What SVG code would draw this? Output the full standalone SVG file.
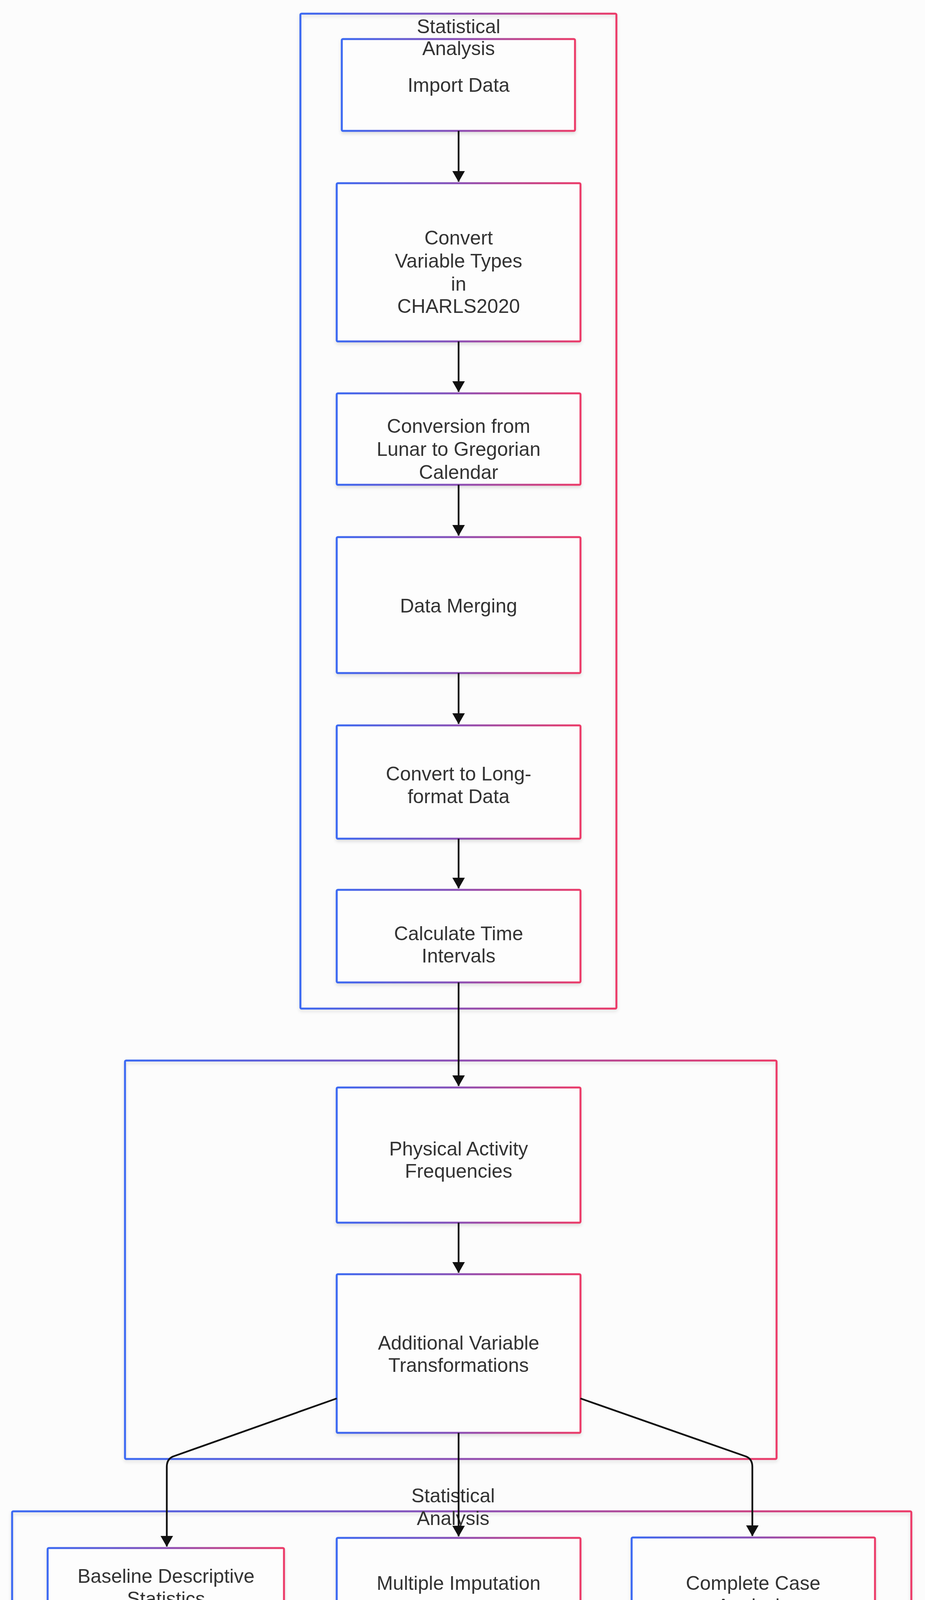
<svg xmlns="http://www.w3.org/2000/svg" width="2368" height="5119" viewBox="0 0 2368 5119">
<defs>
<linearGradient id="g" x1="0" y1="0" x2="1" y2="0">
<stop offset="0" stop-color="#3a68f2"/>
<stop offset="0.5" stop-color="#8b4fb5"/>
<stop offset="1" stop-color="#ec3a68"/>
</linearGradient>
<filter id="sh" x="-5%" y="-5%" width="110%" height="115%">
<feDropShadow dx="0" dy="5" stdDeviation="4" flood-color="#000" flood-opacity="0.12"/>
</filter>
<marker id="ah" markerUnits="userSpaceOnUse" viewBox="0 0 28 32" markerWidth="28" markerHeight="32" refX="27" refY="16" orient="auto">
<path d="M0,0 L28,16 L0,32 z" fill="#111"/>
</marker>
<style>
.cl{fill:none;stroke:url(#g);stroke-width:5;filter:url(#sh)}
.nd{fill:#fdfdfd;stroke:url(#g);stroke-width:5;filter:url(#sh)}
.t{font-family:"Liberation Sans",Arial,sans-serif;font-size:50px;fill:#333;text-anchor:middle}
.e{fill:none;stroke:#111;stroke-width:4.5}
</style>
</defs>
<rect width="2368" height="5119" fill="#fcfcfc"/>

<g id="cluster-top">
<rect class="cl" x="769" y="35" width="809" height="2547" rx="3"/>
</g>
<g id="cluster-mid">
<rect class="cl" x="320" y="2715" width="1668" height="1020" rx="3"/>
</g>
<g id="cluster-bottom">
<rect class="cl" x="31" y="3869" width="2302" height="1218" rx="3"/>
</g>

<g id="n-import">
<rect class="nd" x="875" y="100" width="597" height="235" rx="3"/>
<text class="t" x="1174" y="235">Import Data</text>
</g>
<g id="label-top">
<text class="t" x="1174" y="85">Statistical</text>
<text class="t" x="1174" y="141">Analysis</text>
</g>
<g id="n-convert">
<rect class="nd" x="862" y="469" width="624" height="405" rx="3"/>
<text class="t" x="1174"><tspan x="1174" y="626">Convert</tspan><tspan x="1174" y="685">Variable Types</tspan><tspan x="1174" y="744">in</tspan><tspan x="1174" y="801">CHARLS2020</tspan></text>
</g>
<g id="n-lunar">
<rect class="nd" x="862" y="1007" width="624" height="234" rx="3"/>
<text class="t" x="1174"><tspan x="1174" y="1108">Conversion from</tspan><tspan x="1174" y="1167">Lunar to Gregorian</tspan><tspan x="1174" y="1226">Calendar</tspan></text>
</g>
<g id="n-merge">
<rect class="nd" x="862" y="1375" width="624" height="348" rx="3"/>
<text class="t" x="1174" y="1568">Data Merging</text>
</g>
<g id="n-long">
<rect class="nd" x="862" y="1857" width="624" height="290" rx="3"/>
<text class="t" x="1174"><tspan x="1174" y="1998">Convert to Long-</tspan><tspan x="1174" y="2056">format Data</tspan></text>
</g>
<g id="n-time">
<rect class="nd" x="862" y="2278" width="624" height="237" rx="3"/>
<text class="t" x="1174"><tspan x="1174" y="2407">Calculate Time</tspan><tspan x="1174" y="2464">Intervals</tspan></text>
</g>
<g id="n-pa">
<rect class="nd" x="862" y="2784" width="624" height="346" rx="3"/>
<text class="t" x="1174"><tspan x="1174" y="2958">Physical Activity</tspan><tspan x="1174" y="3015">Frequencies</tspan></text>
</g>
<g id="n-add">
<rect class="nd" x="862" y="3262" width="624" height="406" rx="3"/>
<text class="t" x="1174"><tspan x="1174" y="3455">Additional Variable</tspan><tspan x="1174" y="3512">Transformations</tspan></text>
</g>
<g id="label-bottom">
<text class="t" x="1160" y="3846">Statistical</text>
<text class="t" x="1160" y="3904">Analysis</text>
</g>
<g id="n-base">
<rect class="nd" x="122" y="3963" width="605" height="179" rx="3"/>
<text class="t" x="425"><tspan x="425" y="4052">Baseline Descriptive</tspan><tspan x="425" y="4110">Statistics</tspan></text>
</g>
<g id="n-mi">
<rect class="nd" x="862" y="3937" width="624" height="234" rx="3"/>
<text class="t" x="1174" y="4070">Multiple Imputation</text>
</g>
<g id="n-cox">
<rect class="nd" x="862" y="4304" width="624" height="347" rx="3"/>
<text class="t" x="1174"><tspan x="1174" y="4466">Cox Regression</tspan><tspan x="1174" y="4525">(with Imputed Data)</tspan></text>
</g>
<g id="n-cc">
<rect class="nd" x="1617" y="3936" width="623" height="235" rx="3"/>
<text class="t" x="1928"><tspan x="1928" y="4070">Complete Case</tspan><tspan x="1928" y="4128">Analysis</tspan></text>
</g>
<g id="n-sens">
<rect class="nd" x="1617" y="4332" width="623" height="291" rx="3"/>
<text class="t" x="1928" y="4495">Sensitivity Analysis</text>
</g>
<g id="n-strat">
<rect class="nd" x="1617" y="4785" width="623" height="236" rx="3"/>
<text class="t" x="1928" y="4920">Stratified Analysis</text>
</g>

<g id="connectors">
<path class="e" marker-end="url(#ah)" d="M1174,335 L1174,465"/>
<path class="e" marker-end="url(#ah)" d="M1174,874 L1174,1003"/>
<path class="e" marker-end="url(#ah)" d="M1174,1241 L1174,1371"/>
<path class="e" marker-end="url(#ah)" d="M1174,1723 L1174,1853"/>
<path class="e" marker-end="url(#ah)" d="M1174,2147 L1174,2274"/>
<path class="e" marker-end="url(#ah)" d="M1174,2515 L1174,2780"/>
<path class="e" marker-end="url(#ah)" d="M1174,3130 L1174,3258"/>
<path class="e" marker-end="url(#ah)" d="M862,3580 L442,3729 Q427,3736 427,3755 L427,3959"/>
<path class="e" marker-end="url(#ah)" d="M1174,3668 L1174,3933"/>
<path class="e" marker-end="url(#ah)" d="M1486,3580 L1911,3729 Q1926,3736 1926,3755 L1926,3932"/>
<path class="e" marker-end="url(#ah)" d="M1174,4171 L1174,4300"/>
<path class="e" marker-end="url(#ah)" d="M1926,4171 L1926,4328"/>
<path class="e" marker-end="url(#ah)" d="M1926,4623 L1926,4781"/>
</g>
</svg>
